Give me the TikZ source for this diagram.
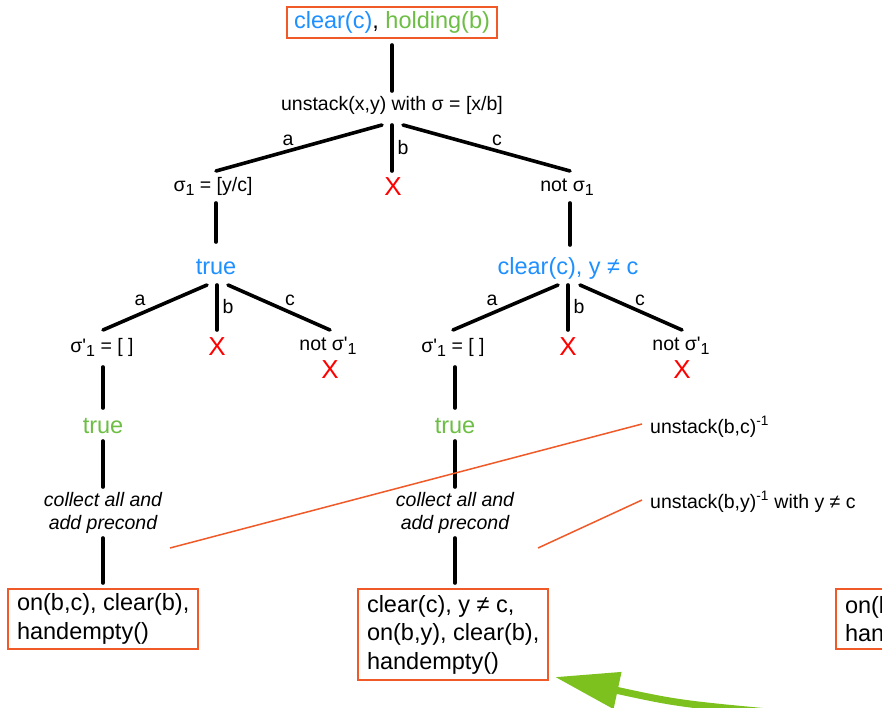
\documentclass[tikz,border=0pt]{standalone}
\usepackage{fontspec}
\setmainfont{Liberation Sans}
% same family without the TeX quote mapping, for a straight prime
\newfontfamily\plainsans{Liberation Sans}
\usetikzlibrary{arrows.meta}

\definecolor{boxorange}{HTML}{F05A28}
\definecolor{factblue}{HTML}{1E90FF}
\definecolor{factgreen}{HTML}{6DBE45}
\definecolor{arrowgreen}{HTML}{7DC11E}
\definecolor{failred}{HTML}{FF0000}

% lowered index and straight prime of the substitutions
\newcommand{\sgsub}{\raisebox{-4pt}{\fontsize{16}{16}\selectfont 1}}
\newcommand{\sgprime}{{\plainsans\char"0027}}

\tikzset{
  lbl/.style={font=\fontsize{19.5}{23}\selectfont, inner sep=0pt, anchor=base},
  bigtxt/.style={font=\fontsize{23.5}{28}\selectfont, inner sep=0pt, anchor=base},
  fail/.style={font=\fontsize{26}{26}\selectfont, text=failred, inner sep=0pt, anchor=base},
  edge/.style={line width=3.6pt, line cap=round},
  factbox/.style={draw=boxorange, line width=2pt, font=\fontsize{23.5}{28.5}\selectfont,
    align=left, inner xsep=9pt, inner ysep=0pt, anchor=north west},
  link/.style={draw=boxorange, line width=1.5pt},
}

\begin{document}
\begin{tikzpicture}[x=1pt, y=-1pt]
\clip (0,0) rectangle (882,708);
\fill[white] (0,0) rectangle (882,708);

% goal
\node[draw=boxorange, line width=2pt, minimum width=210pt, minimum height=31pt,
      inner sep=0pt, font=\fontsize{23.5}{28}\selectfont] (goal) at (392,22.5)
  {\textcolor{factblue}{clear(c)}, \textcolor{factgreen}{holding(b)}};

% first regression step
\node[lbl] (unst) at (392,111) {unstack(x,y) with σ = [x/b]};
\coordinate (t0) at (392,45);
\coordinate (t1) at (392,91);
\draw[edge] (t0) -- (t1);

\coordinate (ua) at (382,125);
\coordinate (ub) at (392,125);
\coordinate (uc) at (403,125);
\coordinate (s1top) at (216,171);
\coordinate (x1top) at (392,171);
\coordinate (n1top) at (570,171);
\draw[edge] (ua) -- (s1top);
\draw[edge] (ub) -- (x1top);
\draw[edge] (uc) -- (n1top);
\node[lbl] (la1) at (288,146) {a};
\node[lbl] (lb1) at (403,155) {b};
\node[lbl] (lc1) at (497,146) {c};

\node[lbl] (s1) at (213,192) {σ\sgsub{} = [y/c]};
\node[fail] (x1) at (393,196) {X};
\node[lbl] (n1) at (567,192) {not σ\sgsub};

\coordinate (s1bot) at (216,203);
\coordinate (tl) at (216,242);
\coordinate (n1bot) at (570,203);
\coordinate (tr) at (570,245);
\draw[edge] (s1bot) -- (tl);
\draw[edge] (n1bot) -- (tr);

\node[bigtxt, text=factblue] (trueL) at (216,274) {true};
\node[bigtxt, text=factblue] (trueR) at (568,274) {clear(c), y ≠ c};

% second step, left
\coordinate (la) at (207,285);
\coordinate (lb) at (217,285);
\coordinate (lc) at (228,285);
\coordinate (lae) at (103,330);
\coordinate (lbe) at (217,330);
\coordinate (lce) at (330,330);
\draw[edge] (la) -- (lae);
\draw[edge] (lb) -- (lbe);
\draw[edge] (lc) -- (lce);
\node[lbl] (la2) at (140,305) {a};
\node[lbl] (lb2) at (228,313) {b};
\node[lbl] (lc2) at (290,305) {c};
\node[lbl] (sl) at (102,352) {σ\sgprime\sgsub{} = [ ]};
\node[fail] (xl) at (217,355) {X};
\node[lbl] (nl) at (328,350) {not σ\sgprime\sgsub};
\node[fail] (xl2) at (330,378) {X};

% second step, right
\coordinate (ra) at (558,285);
\coordinate (rb) at (568,285);
\coordinate (rc) at (580,285);
\coordinate (rae) at (453,330);
\coordinate (rbe) at (568,330);
\coordinate (rce) at (682,330);
\draw[edge] (ra) -- (rae);
\draw[edge] (rb) -- (rbe);
\draw[edge] (rc) -- (rce);
\node[lbl] (ra2) at (492,305) {a};
\node[lbl] (rb2) at (579,313) {b};
\node[lbl] (rc2) at (640,305) {c};
\node[lbl] (sr) at (453,352) {σ\sgprime\sgsub{} = [ ]};
\node[fail] (xr) at (568,355) {X};
\node[lbl] (nr) at (681,350) {not σ\sgprime\sgsub};
\node[fail] (xr2) at (682,378) {X};

% left column down to the result
\coordinate (c1a) at (103,367);
\coordinate (c1b) at (103,408);
\coordinate (c1c) at (103,441);
\coordinate (c1d) at (103,487);
\coordinate (c1e) at (103,538);
\coordinate (c1f) at (103,583);
\draw[edge] (c1a) -- (c1b);
\draw[edge] (c1c) -- (c1d);
\draw[edge] (c1e) -- (c1f);
\node[bigtxt, text=factgreen] (gtL) at (103,433) {true};
\node[lbl, align=center, font=\fontsize{19.5}{23}\selectfont\itshape] (colL) at (103,529)
  {collect all and\\add precond};
\node[factbox, minimum width=190pt, minimum height=60pt] (resL) at (7,588)
  {on(b,c), clear(b),\\handempty()};

% middle column down to the result
\coordinate (c2a) at (455,367);
\coordinate (c2b) at (455,408);
\coordinate (c2c) at (455,441);
\coordinate (c2d) at (455,487);
\coordinate (c2e) at (455,538);
\coordinate (c2f) at (455,583);
\draw[edge] (c2a) -- (c2b);
\draw[edge] (c2c) -- (c2d);
\draw[edge] (c2e) -- (c2f);
\node[bigtxt, text=factgreen] (gtR) at (455,433) {true};
\node[lbl, align=center, font=\fontsize{19.5}{23}\selectfont\itshape] (colR) at (455,529)
  {collect all and\\add precond};
\node[factbox, minimum width=185pt, minimum height=91pt] (resM) at (357,588)
  {clear(c), y ≠ c,\\on(b,y), clear(b),\\handempty()};

% third result, running past the edge
\node[factbox, minimum width=60pt, minimum height=60pt, text width=50pt] (resR) at (835,588)
  {on(b\\han};

% annotations of the inverse operators
\node[lbl, anchor=base west] (ann1) at (650,433) {unstack(b,c)\textsuperscript{-1}};
\node[lbl, anchor=base west] (ann2) at (650,508) {unstack(b,y)\textsuperscript{-1} with y ≠ c};
\coordinate (h1a) at (170,548);
\coordinate (h1b) at (642,424);
\coordinate (h2a) at (538,548);
\coordinate (h2b) at (642,500);
\draw[link] (h1a) -- (h1b);
\draw[link] (h2a) -- (h2b);

% big green arrow onto the middle result
\coordinate (gs) at (812,716);
\coordinate (gc) at (680,704);
\coordinate (gt) at (555,677);
\draw[arrowgreen, line width=7pt, -{Triangle[length=64pt, width=36pt]}] (gs) .. controls (gc) .. (gt);
\end{tikzpicture}
\end{document}
